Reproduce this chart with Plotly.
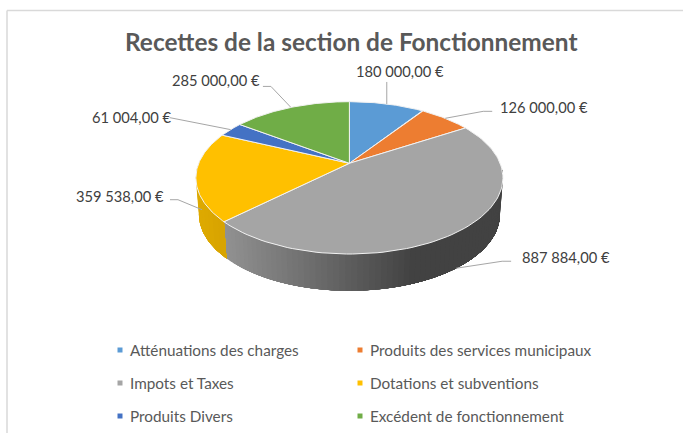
import numpy as np
import plotly.graph_objects as go

categories = ["Atténuations des charges", "Produits des services municipaux", "Impots et Taxes",
              "Dotations et subventions", "Produits Divers", "Excédent de fonctionnement"]
values = [180000.00, 126000.00, 887884.00, 359538.00, 61004.00, 285000.00]
value_labels = ["180 000,00 €", "126 000,00 €", "887 884,00 €", "359 538,00 €", "61 004,00 €", "285 000,00 €"]
colors = ["#5B9BD5", "#ED7D31", "#A5A5A5", "#FFC000", "#4472C4", "#70AD47"]
title = "Recettes de la section de Fonctionnement"

# perspective model of the tilted disc
CX, CY, RX, RY, K = 349.4, 163.3, 150.7, 73.4, 0.191
DEPTH, SHRINK = 36.7, 0.98
TXT = "#595959"
FONT = "Lato"


def top(a):
    X, Y = np.sin(a), np.cos(a)
    d = 1 + K * Y
    return CX + RX * X / d, CY - RY * Y / d


def bottom(a):
    x, y = top(a)
    return CX + (x - CX) * SHRINK, y + DEPTH


fractions = np.cumsum([0] + values) / sum(values)
angles = 2 * np.pi * fractions
mids = (angles[:-1] + angles[1:]) / 2

fig = go.Figure()


def poly(xs, ys, fill, line=None, width=1):
    fig.add_trace(go.Scatter(x=xs, y=ys, mode="lines", fill="toself", fillcolor=fill,
                             line=dict(color=line or fill, width=width),
                             hoverinfo="skip", showlegend=False))


def wall(a0, a1, colfn, n):
    # painted from a0 to a1, each band reaching to the far end so that no seams show
    edges = np.linspace(a0, a1, n + 1)
    for u in edges[:-1]:
        s = np.linspace(u, a1, 60)
        tx, ty = top(s)
        bx, by = bottom(s[::-1])
        poly(list(tx) + list(bx), list(ty) + list(by), colfn(tx[0]), width=0)


def gray_col(x):
    t = np.clip((x - 226) / (410 - 226), 0, 1)
    v = int(round(0x90 + (0x42 - 0x90) * t))
    return f"rgb({v},{v},{v})"


def yellow_col(x):
    t = np.clip((x - 197) / 30, 0, 1)
    return f"rgb({int(222 - 8 * t)},{int(170 - 8 * t)},{0})"


# visible side walls
wall(angles[3], np.radians(95), gray_col, 70)
wall(np.radians(272), angles[3], yellow_col, 12)

# top faces
for i in range(len(values)):
    s = np.linspace(angles[i], angles[i + 1], 90)
    x, y = top(s)
    poly([CX] + list(x) + [CX], [CY] + list(y) + [CY], colors[i], "#F2F2F2", 1)

# leader lines: anchored on each slice mid angle (walls for the two front ones)
elbows = [[(0, -22)], [(38, -7), (47, -7)], [(46, -7), (55, -7)],
          [(-24, -10), (-32, -10)], [(-53, -11), (-61, -12)], [(-20, -21), (-28, -21)]]
on_wall = [False, False, True, True, False, False]
for i, m in enumerate(mids):
    ax, ay = bottom(m) if on_wall[i] else top(m)
    if i == 3:
        ax, ay = ax + 3, ay - 3
    fig.add_trace(go.Scatter(x=[ax] + [ax + dx for dx, _ in elbows[i]],
                             y=[ay] + [ay + dy for _, dy in elbows[i]],
                             mode="lines", line=dict(color="#A6A6A6", width=1),
                             hoverinfo="skip", showlegend=False))

# frame
fig.add_shape(type="line", x0=7, x1=683, y0=10.5, y1=10.5, line=dict(color="#D9D9D9", width=1.5))
fig.add_shape(type="line", x0=7, x1=7, y0=10.5, y1=433, line=dict(color="#D9D9D9", width=1.5))

# data labels
label_pos = [(400, 71, "center"), (544, 107, "center"), (566, 257, "center"),
             (120, 196, "center"), (131, 117, "center"), (215.5, 80, "center")]
for txt, (x, y, anc) in zip(value_labels, label_pos):
    fig.add_annotation(x=x, y=y, text=txt, showarrow=False, xanchor=anc, yanchor="middle",
                       font=dict(family=FONT, size=14.7, color="#404040"))

# legend
leg_x = [120, 360]
leg_text_x = [127.5, 368]
leg_y = [350, 383, 416]
for i, cat in enumerate(categories):
    lx, ly = leg_x[i % 2], leg_y[i // 2]
    fig.add_trace(go.Scatter(x=[lx], y=[ly], mode="markers",
                             marker=dict(symbol="square", size=5, color=colors[i]),
                             hoverinfo="skip", showlegend=False))
    fig.add_annotation(x=leg_text_x[i % 2], y=ly, text=cat, showarrow=False, xanchor="left", yanchor="middle",
                       font=dict(family=FONT, size=15.3, color=TXT))

fig.add_annotation(x=351, y=41.5, text=f"<b>{title}</b>", showarrow=False, xanchor="center", yanchor="middle",
                   font=dict(family=FONT, size=24.4, color=TXT))

fig.update_layout(width=683, height=433, margin=dict(l=0, r=0, t=0, b=0),
                  paper_bgcolor="white", plot_bgcolor="white", showlegend=False,
                  xaxis=dict(range=[0, 683], visible=False, fixedrange=True),
                  yaxis=dict(range=[433, 0], visible=False, fixedrange=True))
fig.write_html("out.html", config={"displayModeBar": False},
               post_script="document.body.style.margin='0';document.body.style.overflow='hidden';")
